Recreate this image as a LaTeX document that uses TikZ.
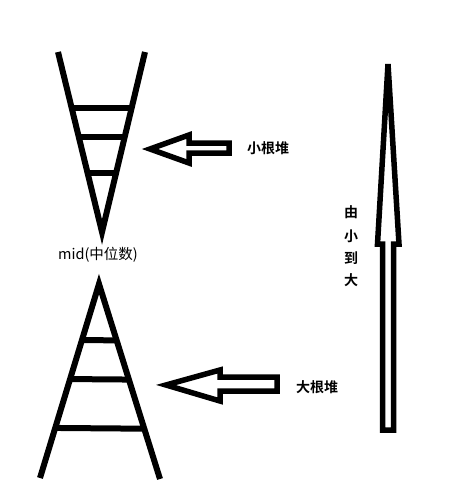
\documentclass[tikz,border=0pt]{standalone}
\usepackage{fontspec}
\newfontfamily\cjk{Noto Sans CJK SC}
\newfontfamily\cjkb{Noto Sans CJK SC Bold}
\usetikzlibrary{calc}
\begin{document}
\begin{tikzpicture}[x=1pt,y=-1pt,
  heapline/.style={line width=6pt},
  blockarrow/.style={line width=5.5pt, line join=miter},
  boldlabel/.style={font=\cjkb\fontsize{14}{14}\selectfont, inner sep=0pt},
  midlabel/.style={font=\cjk\fontsize{14.5}{14.5}\selectfont, inner sep=0pt}]
\useasboundingbox (0,0) rectangle (459,504);
% top V (small-root heap)
\coordinate (vl) at (58,52);
\coordinate (vr) at (145,52);
\coordinate (vt) at (102,232);
\draw[heapline] (vl) -- (vt) -- (vr);
\foreach \t in {0.311,0.472,0.672}
  \draw[heapline] ($(vl)!\t!(vt)$) -- ($(vr)!\t!(vt)$);
% bottom A (big-root heap)
\coordinate (aa) at (99,284);
\coordinate (al) at (40,478);
\coordinate (ar) at (160,479);
\draw[heapline] (al) -- (aa) -- (ar);
\foreach \t in {0.289,0.49,0.742}
  \draw[heapline] ($(aa)!\t!(al)$) -- ($(aa)!\t!(ar)$);
% mid label
\node[midlabel] (mid) at (98,255) {mid(中位数)};
% arrow to small heap
\draw[blockarrow] (150,149) -- (189,135) -- (189,143) -- (229,143) -- (229,153) -- (189,153) -- (189,163) -- cycle;
\node[boldlabel] (small) at (268,148) {小根堆};
% arrow to big heap
\draw[blockarrow] (166,385) -- (220,370) -- (220,377) -- (277,377) -- (277,391) -- (220,391) -- (220,401) -- cycle;
\node[boldlabel] (big) at (317,387) {大根堆};
% vertical arrow
\draw[blockarrow] (388,64) -- (399,244) -- (393.5,244) -- (393.5,430) -- (382.5,430) -- (382.5,244) -- (377.5,244) -- cycle;
\node[boldlabel] (c1) at (351,212) {由};
\node[boldlabel] (c2) at (351,236) {小};
\node[boldlabel] (c3) at (351,258) {到};
\node[boldlabel] (c4) at (351,280) {大};
\end{tikzpicture}
\end{document}
